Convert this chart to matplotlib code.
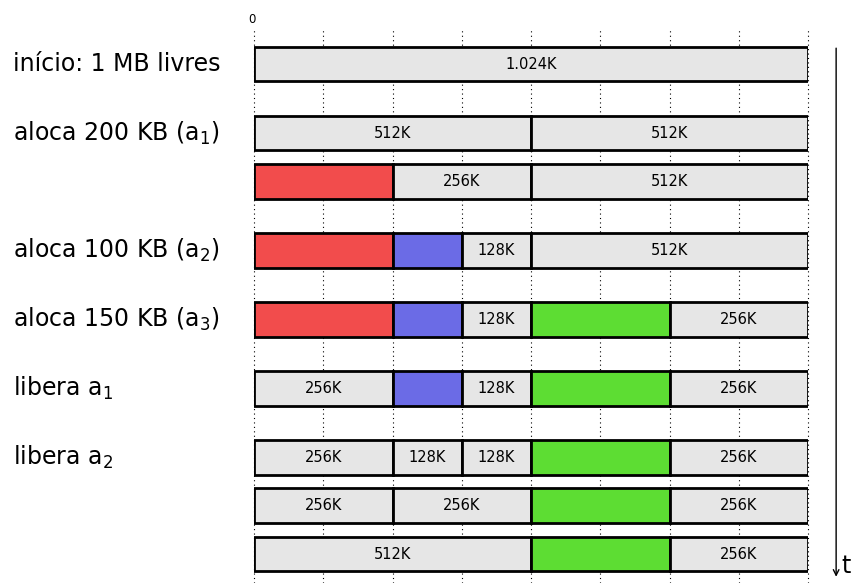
import matplotlib.pyplot as plt

# cores dos blocos
FREE = '#e6e6e6'
A1 = '#f24c4c'
A2 = '#6b6be6'
A3 = '#5ddd33'

# posição vertical de cada linha (em "passos")
rows = [0, 1, 1.7, 2.7, 3.7, 4.7, 5.7, 6.4, 7.1]

# rótulos à esquerda: (linha, texto)
step_rows = [0, 1, 3, 4, 5, 6]
step_labels = ['início: 1 MB livres',
               r'aloca 200 KB (a$_\mathregular{1}$)',
               r'aloca 100 KB (a$_\mathregular{2}$)',
               r'aloca 150 KB (a$_\mathregular{3}$)',
               r'libera a$_\mathregular{1}$',
               r'libera a$_\mathregular{2}$']

# blocos de cada linha: (inicio em KB, tamanho em KB, cor, texto)
blocks = [
    [(0, 1024, FREE, '1.024K')],
    [(0, 512, FREE, '512K'), (512, 512, FREE, '512K')],
    [(0, 256, A1, ''), (256, 256, FREE, '256K'), (512, 512, FREE, '512K')],
    [(0, 256, A1, ''), (256, 128, A2, ''), (384, 128, FREE, '128K'), (512, 512, FREE, '512K')],
    [(0, 256, A1, ''), (256, 128, A2, ''), (384, 128, FREE, '128K'), (512, 256, A3, ''), (768, 256, FREE, '256K')],
    [(0, 256, FREE, '256K'), (256, 128, A2, ''), (384, 128, FREE, '128K'), (512, 256, A3, ''), (768, 256, FREE, '256K')],
    [(0, 256, FREE, '256K'), (256, 128, FREE, '128K'), (384, 128, FREE, '128K'), (512, 256, A3, ''), (768, 256, FREE, '256K')],
    [(0, 256, FREE, '256K'), (256, 256, FREE, '256K'), (512, 256, A3, ''), (768, 256, FREE, '256K')],
    [(0, 512, FREE, '512K'), (512, 256, A3, ''), (768, 256, FREE, '256K')],
]

fig = plt.figure(figsize=(8.58, 5.83), dpi=100)
ax = fig.add_axes([254 / 858, 0, 554 / 858, 1 - 30 / 583])
ax.set_xlim(0, 1024)
ax.set_ylim(7.52, -0.493)

for x in range(0, 1025, 128):
    ax.axvline(x, color='black', linestyle=(0, (1, 3)), linewidth=0.8,
               zorder=0, clip_on=False)

for r, row in zip(rows, blocks):
    for start, size, color, text in row:
        ax.barh(r, size, left=start, height=0.5, color=color,
                edgecolor='black', linewidth=2, zorder=2)
        if text:
            ax.text(start + size / 2, r, text, ha='center', va='center',
                    fontsize=10.5, zorder=3)

for i, lab in zip(step_rows, step_labels):
    ax.text(-446, rows[i], lab, ha='left', va='center', fontsize=17)

ax.text(-4, -0.64, '0', ha='center', va='center', fontsize=8.5, clip_on=False)

# eixo do tempo
ax.annotate('', xy=(1076, 7.47), xytext=(1076, -0.27),
            arrowprops=dict(arrowstyle='->', color='black', lw=1),
            annotation_clip=False)
ax.text(1085, 7.28, 't', ha='left', va='center', fontsize=17, clip_on=False)

for s in ax.spines.values():
    s.set_visible(False)
ax.set_xticks([])
ax.set_yticks([])

fig.savefig('out.png', dpi=100)
